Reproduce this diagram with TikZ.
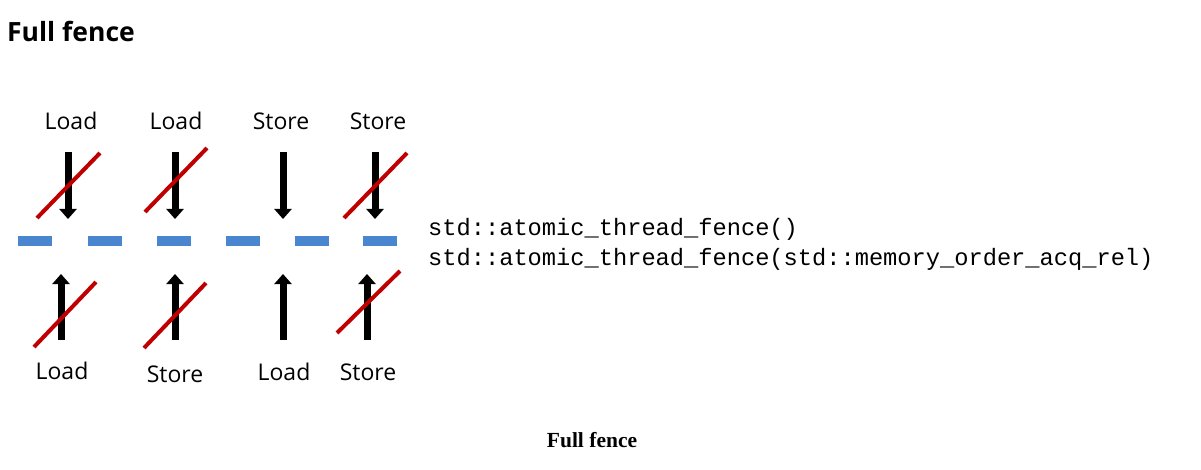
\documentclass[tikz,border=0pt]{standalone}
\usepackage{fontspec}
\setmainfont{Open Sans}
\newfontfamily\codefont{Liberation Mono}
\newfontfamily\capfont{Liberation Serif}
\usetikzlibrary{arrows.meta}
\begin{document}
\begin{tikzpicture}[x=1pt,y=-1pt,
  lbl/.style={font=\fontsize{23}{26}\selectfont,inner sep=0pt},
  arr/.style={line width=7pt,-{Triangle[width=17pt,length=10pt]}},
  cross/.style={draw={rgb,255:red,192;green,0;blue,0},line width=4pt},
  fencedash/.style={fill={rgb,255:red,74;green,134;blue,208}},
  code/.style={font=\codefont\fontsize{23.7}{26}\selectfont,anchor=west,inner sep=0pt}]
\useasboundingbox (0,0) rectangle (1201,470);
\node[anchor=west,inner sep=0pt,font=\bfseries\fontsize{26.5}{30}\selectfont] (title) at (7,31) {Full fence};
% labels
\node[lbl] (t1) at (71,121) {Load};
\node[lbl] (t2) at (176,121) {Load};
\node[lbl] (t3) at (281,121) {Store};
\node[lbl] (t4) at (378,121) {Store};
\node[lbl] (b1) at (62,371) {Load};
\node[lbl] (b2) at (175,374) {Store};
\node[lbl] (b3) at (284,372) {Load};
\node[lbl] (b4) at (368,372) {Store};
% arrows
\foreach \i/\x in {1/68,2/175,3/283,4/375}{
  \coordinate (ts\i) at (\x,152); \coordinate (te\i) at (\x,219);
  \draw[arr] (ts\i) -- (te\i);}
\foreach \i/\x in {1/61,2/175,3/283,4/367}{
  \coordinate (bs\i) at (\x,340); \coordinate (be\i) at (\x,274);
  \draw[arr] (bs\i) -- (be\i);}
% crosses
\coordinate (c1a) at (37,218); \coordinate (c1b) at (100,153);
\coordinate (c2a) at (145,212); \coordinate (c2b) at (207,148);
\coordinate (c4a) at (344,218); \coordinate (c4b) at (407,153);
\coordinate (d1a) at (34,347); \coordinate (d1b) at (96,282);
\coordinate (d2a) at (144,348); \coordinate (d2b) at (206,283);
\coordinate (d4a) at (337,333); \coordinate (d4b) at (400,271);
\foreach \a in {c1,c2,c4,d1,d2,d4}{\draw[cross] (\a a) -- (\a b);}
% fence dashes
\foreach \x in {18,88,157,226,295,363}{\fill[fencedash] (\x,236) rectangle ++(34,10);}
\node[code] (code1) at (428,229) {std::atomic\_thread\_fence()};
\node[code] (code2) at (428,259) {std::atomic\_thread\_fence(std::memory\_order\_acq\_rel)};
\node[inner sep=0pt,font=\capfont\bfseries\fontsize{21.5}{24}\selectfont] (cap) at (592,440) {Full fence};
\end{tikzpicture}
\end{document}
